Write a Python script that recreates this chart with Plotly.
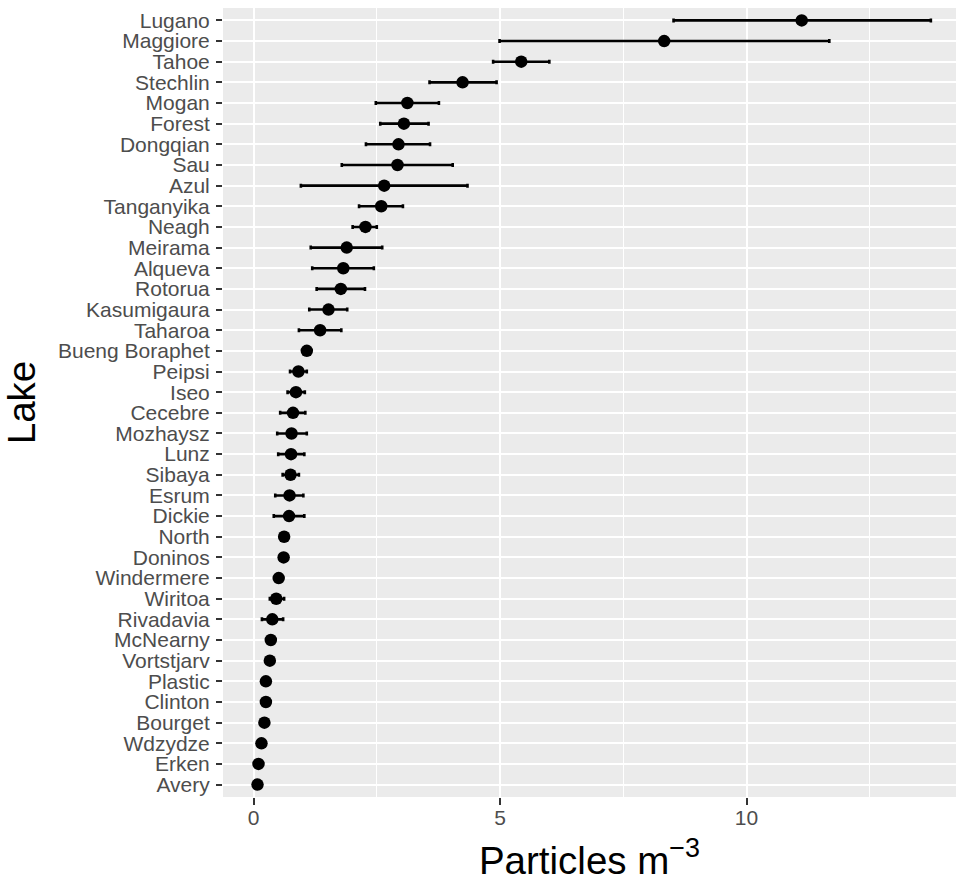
import plotly.graph_objects as go

# Lakes listed top to bottom as in the chart
lakes = ["Lugano", "Maggiore", "Tahoe", "Stechlin", "Mogan", "Forest", "Dongqian", "Sau",
         "Azul", "Tanganyika", "Neagh", "Meirama", "Alqueva", "Rotorua", "Kasumigaura",
         "Taharoa", "Bueng Boraphet", "Peipsi", "Iseo", "Cecebre", "Mozhaysz", "Lunz",
         "Sibaya", "Esrum", "Dickie", "North", "Doninos", "Windermere", "Wiritoa",
         "Rivadavia", "McNearny", "Vortstjarv", "Plastic", "Clinton", "Bourget",
         "Wdzydze", "Erken", "Avery"]

mean = [11.12, 8.33, 5.43, 4.24, 3.12, 3.05, 2.94, 2.92,
        2.65, 2.59, 2.27, 1.89, 1.82, 1.77, 1.52,
        1.35, 1.08, 0.91, 0.86, 0.80, 0.77, 0.76,
        0.75, 0.73, 0.72, 0.62, 0.61, 0.51, 0.46,
        0.38, 0.35, 0.33, 0.25, 0.25, 0.22,
        0.16, 0.10, 0.08]

lower = [8.52, 4.99, 4.86, 3.57, 2.48, 2.57, 2.28, 1.79,
         0.96, 2.14, 2.01, 1.16, 1.19, 1.28, 1.13,
         0.92, None, 0.74, 0.69, 0.54, 0.48, 0.50,
         0.59, 0.44, 0.41, None, None, None, 0.33,
         0.17, None, None, None, 0.19, None,
         None, None, None]

upper = [13.74, 11.68, 6.00, 4.93, 3.76, 3.55, 3.58, 4.04,
         4.34, 3.03, 2.50, 2.61, 2.44, 2.26, 1.90,
         1.78, None, 1.08, 1.04, 1.05, 1.08, 1.03,
         0.92, 1.01, 1.03, None, None, None, 0.62,
         0.60, None, None, None, 0.32, None,
         None, None, None]

x_ticks = [0, 5, 10]

plus = [u - m if u is not None else None for u, m in zip(upper, mean)]
minus = [m - l if l is not None else None for l, m in zip(lower, mean)]

fig = go.Figure()
fig.add_trace(go.Scatter(
    x=mean, y=lakes, mode="markers",
    marker=dict(color="black", size=12.5, line=dict(width=0)),
    error_x=dict(type="data", symmetric=False, array=plus, arrayminus=minus,
                 color="black", thickness=2.6, width=2),
    showlegend=False,
))

font_family = "Liberation Sans, Arial, sans-serif"
fig.update_layout(
    width=956, height=887,
    margin=dict(l=223, r=0, t=8, b=90),
    paper_bgcolor="white",
    plot_bgcolor="#EBEBEB",
    font=dict(family=font_family, color="#4D4D4D", size=21),
    xaxis=dict(
        range=[-0.62, 14.25],
        tickvals=x_ticks, ticktext=[str(t) for t in x_ticks],
        showgrid=True, gridcolor="white", gridwidth=2,
        minor=dict(dtick=2.5, tick0=0, showgrid=True, gridcolor="white", gridwidth=1, ticklen=0),
        zeroline=False,
        ticks="outside", ticklen=7, tickwidth=2, tickcolor="#333333",
        ticklabelstandoff=-5,
        tickfont=dict(size=21, color="#4D4D4D"),
        title=dict(text="Particles m<sup>−3</sup>", font=dict(size=38.5, color="black"), standoff=18),
        automargin=False,
        showline=False,
    ),
    yaxis=dict(
        categoryorder="array", categoryarray=lakes[::-1],
        tickmode="array", tickvals=lakes, ticktext=lakes,
        range=[-0.6, len(lakes) - 1 + 0.6],
        showgrid=True, gridcolor="white", gridwidth=2,
        zeroline=False,
        ticks="outside", ticklen=6, tickwidth=2, tickcolor="#333333",
        ticklabelstandoff=2,
        tickfont=dict(size=21, color="#4D4D4D"),
        title=dict(text="Lake", font=dict(size=38.5, color="black"), standoff=12),
        automargin=False,
        showline=False,
    ),
)

fig.write_html("out.html", config={"displayModeBar": False},
               post_script="document.body.style.margin='0px';")
